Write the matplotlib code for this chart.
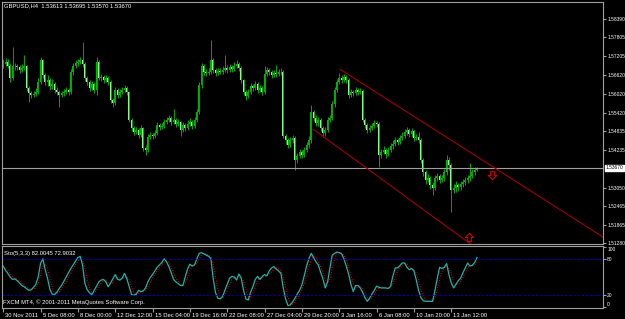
import matplotlib
matplotlib.use('Agg')
import matplotlib.pyplot as plt
import matplotlib.transforms as mtransforms
from matplotlib.path import Path
import numpy as np
import pandas as pd

# GBPUSD H4 candles, 30 Nov 2011 .. 16 Jan 2012
symbol_line = 'GBPUSD,H4  1.53613 1.53695 1.53570 1.53670'
first_open = 1.5693
last_open = 1.53613

closes = [
    1.5696, 1.5702, 1.5690, 1.5652, 1.5690, 1.5690, 1.5687, 1.5677, 1.5683, 1.5690,
    1.5620, 1.5604, 1.5598, 1.5601, 1.5607, 1.5639, 1.5709, 1.5661, 1.5639, 1.5645,
    1.5626, 1.5633, 1.5614, 1.5607, 1.5598, 1.5604, 1.5607, 1.5614, 1.5607, 1.5671,
    1.5690, 1.5699, 1.5702, 1.5709, 1.5696, 1.5652, 1.5639, 1.5620, 1.5633, 1.5614,
    1.5702, 1.5652, 1.5655, 1.5645, 1.5652, 1.5639, 1.5582, 1.5573, 1.5614, 1.5598,
    1.5607, 1.5614, 1.5620, 1.5607, 1.5519, 1.5493, 1.5481, 1.5487, 1.5471, 1.5493,
    1.5430, 1.5424, 1.5465, 1.5471, 1.5468, 1.5477, 1.5503, 1.5497, 1.5500, 1.5512,
    1.5519, 1.5525, 1.5512, 1.5519, 1.5506, 1.5512, 1.5487, 1.5503, 1.5493, 1.5506,
    1.5512, 1.5500, 1.5519, 1.5544, 1.5630, 1.5690, 1.5671, 1.5668, 1.5671, 1.5709,
    1.5677, 1.5668, 1.5674, 1.5671, 1.5677, 1.5683, 1.5677, 1.5687, 1.5680, 1.5690,
    1.5696, 1.5683, 1.5645, 1.5607, 1.5595, 1.5607, 1.5626, 1.5620, 1.5633, 1.5614,
    1.5620, 1.5607, 1.5665, 1.5677, 1.5671, 1.5661, 1.5668, 1.5665, 1.5671, 1.5671,
    1.5468, 1.5455, 1.5439, 1.5455, 1.5462, 1.5392, 1.5404, 1.5417, 1.5408, 1.5424,
    1.5439, 1.5455, 1.5544, 1.5525, 1.5509, 1.5519, 1.5493, 1.5477, 1.5487, 1.5519,
    1.5525, 1.5569, 1.5614, 1.5639, 1.5652, 1.5645, 1.5655, 1.5645, 1.5598, 1.5607,
    1.5604, 1.5614, 1.5607, 1.5611, 1.5519, 1.5503, 1.5487, 1.5493, 1.5500, 1.5509,
    1.5506, 1.5408, 1.5417, 1.5424, 1.5411, 1.5424, 1.5436, 1.5443, 1.5455, 1.5449,
    1.5462, 1.5468, 1.5481, 1.5487, 1.5474, 1.5484, 1.5462, 1.5465, 1.5455, 1.5392,
    1.5354, 1.5329, 1.5335, 1.5313, 1.5303, 1.5335, 1.5341, 1.5329, 1.5335, 1.5354,
    1.5392, 1.5376, 1.5297, 1.5303, 1.5313, 1.5306, 1.5316, 1.5322, 1.5329, 1.5335,
    1.5341, 1.5354, 1.5361, 1.5367]

highs = [
    1.5712, 1.5715, 1.5712, 1.5699, 1.5750, 1.5700, 1.5696, 1.5693, 1.5696, 1.5725,
    1.5693, 1.5626, 1.5611, 1.5611, 1.5620, 1.5652, 1.5718, 1.5712, 1.5668, 1.5661,
    1.5652, 1.5649, 1.5639, 1.5623, 1.5614, 1.5611, 1.5617, 1.5623, 1.5620, 1.5680,
    1.5699, 1.5709, 1.5712, 1.5718, 1.5766, 1.5702, 1.5658, 1.5645, 1.5642, 1.5639,
    1.5718, 1.5709, 1.5665, 1.5661, 1.5661, 1.5658, 1.5645, 1.5588, 1.5623, 1.5620,
    1.5617, 1.5623, 1.5630, 1.5626, 1.5611, 1.5525, 1.5500, 1.5497, 1.5493, 1.5503,
    1.5497, 1.5439, 1.5474, 1.5481, 1.5477, 1.5487, 1.5512, 1.5509, 1.5509, 1.5522,
    1.5528, 1.5535, 1.5531, 1.5554, 1.5525, 1.5522, 1.5516, 1.5512, 1.5509, 1.5519,
    1.5525, 1.5519, 1.5528, 1.5554, 1.5639, 1.5699, 1.5696, 1.5680, 1.5683, 1.5772,
    1.5715, 1.5683, 1.5683, 1.5683, 1.5690, 1.5725, 1.5693, 1.5696, 1.5693, 1.5702,
    1.5709, 1.5702, 1.5690, 1.5649, 1.5614, 1.5617, 1.5636, 1.5633, 1.5642, 1.5639,
    1.5630, 1.5626, 1.5690, 1.5687, 1.5683, 1.5677, 1.5677, 1.5693, 1.5680, 1.5683,
    1.5677, 1.5474, 1.5462, 1.5465, 1.5471, 1.5468, 1.5414, 1.5427, 1.5424, 1.5433,
    1.5449, 1.5468, 1.5566, 1.5551, 1.5535, 1.5528, 1.5525, 1.5500, 1.5497, 1.5528,
    1.5535, 1.5579, 1.5623, 1.5649, 1.5668, 1.5661, 1.5665, 1.5661, 1.5652, 1.5617,
    1.5614, 1.5623, 1.5620, 1.5620, 1.5617, 1.5525, 1.5509, 1.5503, 1.5509, 1.5519,
    1.5516, 1.5512, 1.5427, 1.5436, 1.5430, 1.5433, 1.5446, 1.5455, 1.5465, 1.5462,
    1.5471, 1.5481, 1.5490, 1.5497, 1.5493, 1.5493, 1.5487, 1.5474, 1.5481, 1.5462,
    1.5398, 1.5360, 1.5348, 1.5341, 1.5322, 1.5344, 1.5351, 1.5348, 1.5344, 1.5363,
    1.5408, 1.5401, 1.5382, 1.5316, 1.5325, 1.5319, 1.5325, 1.5332, 1.5338, 1.5344,
    1.5382, 1.5363, 1.5370, 1.53695]

lows = [
    1.5684, 1.5690, 1.5683, 1.5640, 1.5645, 1.5678, 1.5677, 1.5668, 1.5671, 1.5677,
    1.5611, 1.5576, 1.5588, 1.5592, 1.5595, 1.5601, 1.5633, 1.5652, 1.5630, 1.5626,
    1.5614, 1.5617, 1.5604, 1.5598, 1.5560, 1.5592, 1.5595, 1.5601, 1.5598, 1.5601,
    1.5661, 1.5683, 1.5690, 1.5696, 1.5687, 1.5642, 1.5630, 1.5611, 1.5614, 1.5604,
    1.5598, 1.5645, 1.5642, 1.5636, 1.5639, 1.5630, 1.5573, 1.5560, 1.5566, 1.5588,
    1.5592, 1.5601, 1.5607, 1.5598, 1.5512, 1.5484, 1.5471, 1.5474, 1.5462, 1.5465,
    1.5420, 1.5408, 1.5417, 1.5458, 1.5458, 1.5462, 1.5471, 1.5487, 1.5490, 1.5493,
    1.5506, 1.5512, 1.5503, 1.5506, 1.5497, 1.5500, 1.5468, 1.5481, 1.5484, 1.5487,
    1.5500, 1.5490, 1.5493, 1.5512, 1.5538, 1.5620, 1.5661, 1.5658, 1.5661, 1.5665,
    1.5668, 1.5658, 1.5661, 1.5665, 1.5665, 1.5671, 1.5668, 1.5671, 1.5671, 1.5674,
    1.5683, 1.5674, 1.5636, 1.5598, 1.5582, 1.5588, 1.5601, 1.5611, 1.5614, 1.5604,
    1.5607, 1.5598, 1.5601, 1.5658, 1.5661, 1.5652, 1.5655, 1.5655, 1.5658, 1.5661,
    1.5462, 1.5443, 1.5430, 1.5433, 1.5446, 1.5360, 1.5382, 1.5398, 1.5398, 1.5401,
    1.5417, 1.5430, 1.5446, 1.5516, 1.5500, 1.5500, 1.5484, 1.5465, 1.5468, 1.5481,
    1.5512, 1.5519, 1.5560, 1.5607, 1.5633, 1.5636, 1.5639, 1.5636, 1.5588, 1.5592,
    1.5595, 1.5598, 1.5598, 1.5601, 1.5512, 1.5493, 1.5477, 1.5481, 1.5487, 1.5493,
    1.5497, 1.5370, 1.5398, 1.5411, 1.5398, 1.5404, 1.5417, 1.5427, 1.5436, 1.5439,
    1.5443, 1.5455, 1.5462, 1.5471, 1.5465, 1.5465, 1.5452, 1.5455, 1.5446, 1.5382,
    1.5341, 1.5316, 1.5322, 1.5300, 1.5281, 1.5297, 1.5325, 1.5319, 1.5322, 1.5325,
    1.5344, 1.5360, 1.5227, 1.5287, 1.5290, 1.5293, 1.5297, 1.5306, 1.5313, 1.5319,
    1.5325, 1.5335, 1.5344, 1.5357]

# Stochastic(5,3,3) main line
stoch_main = [
    68, 61, 56, 50, 46, 47, 44, 40, 36, 34,
    31, 28, 29, 33, 38, 50, 72, 80, 62, 48,
    30, 22, 21, 25, 31, 36, 43, 50, 57, 64,
    70, 76, 82, 84, 70, 40, 29, 24, 21, 28,
    35, 42, 45, 46, 42, 34, 40, 47, 54, 46,
    45, 48, 56, 47, 34, 21, 20, 22, 28, 26,
    27, 32, 42, 49, 54, 60, 66, 70, 74, 80,
    75, 67, 57, 46, 42, 39, 36, 36, 50, 63,
    71, 68, 70, 80, 89, 90, 88, 86, 84, 80,
    47, 24, 15, 14, 18, 28, 38, 48, 51, 50,
    45, 55, 48, 28, 14, 12, 25, 34, 46, 51,
    46, 51, 54, 52, 60, 65, 67, 63, 60, 56,
    32, 14, 3, 4, 9, 15, 22, 28, 37, 52,
    68, 80, 89, 82, 75, 70, 58, 47, 32, 42,
    65, 86, 89, 91, 90, 88, 80, 68, 55, 38,
    26, 36, 36, 32, 25, 16, 10, 15, 22, 28,
    35, 33, 32, 32, 32, 31, 35, 52, 65, 65,
    69, 73, 73, 66, 62, 64, 60, 45, 28, 16,
    11, 10, 10, 10, 10, 28, 48, 66, 64, 66,
    72, 54, 40, 32, 38, 44, 48, 57, 65, 73,
    68, 69, 74, 82.0045]
stoch_text = 'Sto(5,3,3) 82.0045 72.9032'

price_ticks = [1.58390, 1.57805, 1.57205, 1.56620, 1.56020, 1.55420, 1.54835,
               1.54235, 1.53050, 1.52465, 1.51865, 1.51280]
last_price = 1.53670
stoch_levels = [20, 80]

date_ticks = [0, 16, 32, 48, 64, 80, 96, 112, 128, 144, 160, 176, 192]
date_labels = ['30 Nov 2011', '5 Dec 08:00', '8 Dec 00:00', '12 Dec 12:00',
               '15 Dec 04:00', '19 Dec 16:00', '22 Dec 08:00', '27 Dec 04:00',
               '29 Dec 20:00', '3 Jan 16:00', '6 Jan 08:00', '10 Jan 20:00',
               '13 Jan 12:00']

# channel lines (bar index, price) and the two alert arrows
upper_line = ([144.3, 257.0], [1.5680, 1.5148])
lower_line = ([132.8, 201.0], [1.5490, 1.5122])
arrow_down = (209.4, 1.5344)
arrow_up = (199.6, 1.5148)

plt.rcParams['font.family'] = ['Liberation Sans', 'DejaVu Sans']
grey = '#a0a0a0'
fs = 4.2
fs_right = 3.5

# hollow MT4-style arrow marker
down_path = Path([(-0.22, 0.5), (0.22, 0.5), (0.22, 0.0), (0.5, 0.0), (0.0, -0.5),
                  (-0.5, 0.0), (-0.22, 0.0), (-0.22, 0.5)], closed=True)
up_path = Path([(px, -py) for px, py in down_path.vertices], closed=True)

fig = plt.figure(figsize=(6.25, 3.19), dpi=100, facecolor='black')
ax = fig.add_axes([2/625, 75/319, 601/625, 242/319], facecolor='black')
ax2 = fig.add_axes([2/625, 11/319, 601/625, 62/319], facecolor='black', sharex=ax)

# a) candles
x = np.arange(len(closes))
o = np.array([first_open] + closes[:-1])
o[-1] = last_open
c = np.array(closes)
h = np.array(highs)
l = np.array(lows)
up = c >= o
ax.vlines(x, l, h, color='#00a800', lw=0.7)
body = np.maximum(np.abs(c - o), 0.00010)
ax.bar(x[up], body[up], bottom=o[up], width=0.8, color='#00b400', lw=0)
ax.bar(x[~up], body[~up], bottom=c[~up], width=0.8, color='#80ff80', lw=0)

ax.axhline(last_price, color=grey, lw=0.8)
ax.plot(*upper_line, color='#a00000', lw=0.8)
ax.plot(*lower_line, color='#a00000', lw=0.8)
ax.plot(*arrow_down, marker=down_path, ms=6, mfc='none', mec='#d00000', mew=0.8, ls='none')
ax.plot(*arrow_up, marker=up_path, ms=6, mfc='none', mec='#d00000', mew=0.8, ls='none')

ax.set_xlim(-0.5, 257)
ax.set_ylim(1.5126, 1.5893)
ax.yaxis.tick_right()
ax.set_yticks(price_ticks)
ax.set_yticklabels(['%.5f' % p for p in price_ticks])
ax.tick_params(axis='y', colors=grey, labelcolor='white', labelsize=fs_right, length=2.5, pad=0.5)
ax.tick_params(axis='x', bottom=False, labelbottom=False)
ax.annotate('%.5f' % last_price, xy=(1, last_price),
            xycoords=ax.get_yaxis_transform(), xytext=(2.0, 0), textcoords='offset points',
            fontsize=fs_right, color='black', va='center', ha='left',
            bbox=dict(boxstyle='square,pad=0.1', fc='white', ec='white'))
fig.text(4/625, 1 - 6/319, symbol_line, color='white', fontsize=fs, va='center')

# b) stochastic window
sig = pd.Series(stoch_main).rolling(3).mean()
ax2.plot(x, sig, color='#ff0000', lw=0.7, ls=(0, (1, 1.5)))
ax2.plot(x, stoch_main, color='#20b2aa', lw=0.9)
for lv in stoch_levels:
    ax2.axhline(lv, color='#0000c8', lw=0.6, ls=(0, (3, 2)))
ax2.set_ylim(-1, 101)
ax2.yaxis.tick_right()
ax2.set_yticks([0, 20, 80, 100])
ax2.set_yticklabels(['0', '20', '80', '100'])
ax2.tick_params(axis='y', colors=grey, labelcolor='white', labelsize=fs_right, length=2.5, pad=0.5)
ax2.get_yticklabels()[0].set_va('bottom')
ax2.get_yticklabels()[-1].set_va('top')
ax2.text(0.004, 0.88, stoch_text, transform=ax2.transAxes, color='white', fontsize=fs, va='center')
ax2.text(0.002, 0.1, 'FXCM MT4, \u00a9 2001-2011 MetaQuotes Software Corp.', transform=ax2.transAxes,
         color='white', fontsize=fs, va='center')

ax2.set_xticks(date_ticks)
ax2.set_xticklabels(date_labels)
ax2.tick_params(axis='x', colors=grey, labelcolor='white', labelsize=fs, length=3, pad=0.5)
shift = mtransforms.ScaledTranslation(1.5/72, 0, fig.dpi_scale_trans)
for lab in ax2.get_xticklabels():
    lab.set_ha('left')
    lab.set_transform(lab.get_transform() + shift)

for a in (ax, ax2):
    for s in a.spines.values():
        s.set_color(grey)
        s.set_linewidth(0.8)

fig.savefig('out.png', dpi=100, facecolor='black')
